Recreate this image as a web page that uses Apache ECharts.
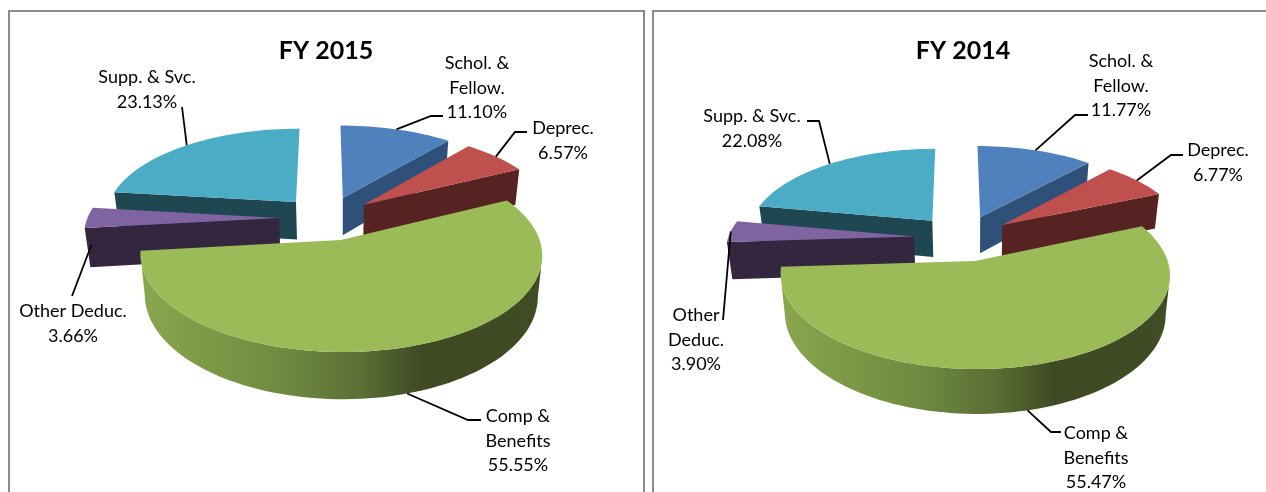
<!DOCTYPE html>
<html>
<head>
<meta charset="utf-8">
<style>
  html, body { margin: 0; padding: 0; background: #fff; }
  #main { width: 1266px; height: 492px; }
</style>
<script src="https://cdn.jsdelivr.net/npm/echarts@6/dist/echarts.min.js"></script>
</head>
<body>
<div id="main"></div>
<script>
// slice order runs clockwise from 12 o'clock
const categories = ['Schol. & Fellow.', 'Deprec.', 'Comp & Benefits', 'Other Deduc.', 'Supp. & Svc.'];
const values2015 = [11.10, 6.57, 55.55, 3.66, 23.13];
const values2014 = [11.77, 6.77, 55.47, 3.90, 22.08];
const labels2015 = ['Schol. &\nFellow.', 'Deprec.', 'Comp &\nBenefits', 'Other Deduc.', 'Supp. & Svc.'];
const labels2014 = ['Schol. &\nFellow.', 'Deprec.', 'Comp &\nBenefits', 'Other\nDeduc.', 'Supp. & Svc.'];

const topColors = ['#4f81bd', '#c0504d', '#9bbb59', '#8064a2', '#4bacc6'];
const wallColors = ['#2f5078', '#562322', '#404c24', '#35263f', '#1f4752'];
// shading along the front of the big slice
const rimStops = [
  { offset: 0, color: '#8aa64e' },
  { offset: 0.35, color: '#708b41' },
  { offset: 0.55, color: '#5a6e35' },
  { offset: 0.7, color: '#3f4a23' },
  { offset: 1, color: '#404c24' }
];

const FONT = 'Lato';

// pie camera and label layout, one per chart
const layout2015 = {
  cx: 341, cy: 240, rx: 198.6, ry: 95, k: 0.152, depth: 40, explode: 0.25, shear: 2, shrink: 0.022,
  // label centre, then the leader's elbow points; anchor is how far down the wall the leader starts
  notes: [
    { x: 477, y: 63, path: [[431, 116], [443, 116]], anchor: 0 },
    { x: 563, y: 128, path: [[515, 132], [527, 132]], anchor: 0 },
    { x: 518, y: 416, path: [[468, 420], [481, 420]], anchor: 1 },
    { x: 73, y: 311, path: [[72, 296]], anchor: 0.7 },
    { x: 147, y: 77, path: [[182, 107]], anchor: 0 }
  ]
};
const layout2014 = {
  cx: 975, cy: 261, rx: 192.7, ry: 92.7, k: 0.142, depth: 38.5, explode: 0.265, shear: 2, shrink: 0.022,
  notes: [
    { x: 1121, y: 61, path: [[1075, 115], [1088, 115]], anchor: 0 },
    { x: 1218, y: 150, path: [[1171, 155], [1183, 155]], anchor: 0 },
    { x: 1096, y: 433, path: [[1051, 432], [1061, 432]], anchor: 1 },
    { x: 696, y: 315, path: [[723, 320]], anchor: 0 },
    { x: 752, y: 116, path: [[819, 121], [807, 121]], anchor: 0 }
  ]
};

const RAD = Math.PI / 180;

// works out every slice's angles and exploded apex from the values
function buildSlices(values, cam) {
  const total = values.reduce((a, b) => a + b, 0);
  let sum = 0;
  const slices = values.map((v, i) => {
    const start = sum / total * 360;
    sum += v;
    const end = sum / total * 360;
    return { index: i, value: v, start: start, end: end, mid: (start + end) / 2 };
  });
  // the camera origin sits on the apex of the biggest slice
  const big = slices.reduce((a, b) => (b.value > a.value ? b : a));
  const ox = -cam.explode * Math.sin(big.mid * RAD);
  const oy = -cam.explode * Math.cos(big.mid * RAD);
  slices.forEach(s => {
    s.ax = ox + cam.explode * Math.sin(s.mid * RAD);
    s.ay = oy + cam.explode * Math.cos(s.mid * RAD);
    s.big = s === big;
  });
  return slices;
}

function project(cam, X, Y, drop) {
  const d = 1 + cam.k * Y;
  const x = cam.rx * X / d - cam.shear * Y;
  return [cam.cx + x * (1 - cam.shrink * drop), cam.cy - cam.ry * Y / d + cam.depth * drop / d];
}

function rimPoint(cam, s, deg, drop) {
  return project(cam, s.ax + Math.sin(deg * RAD), s.ay + Math.cos(deg * RAD), drop);
}

function arcDegrees(s) {
  const list = [];
  for (let a = s.start; a < s.end; a += 2) list.push(a);
  list.push(s.end);
  return list;
}

function sliceElements(cam, s) {
  const children = [];
  const degs = arcDegrees(s);
  const wall = wallColors[s.index];
  const apexTop = project(cam, s.ax, s.ay, 0);
  const apexBot = project(cam, s.ax, s.ay, 1);

  // straight cut faces, only where they turn towards the viewer
  const startDx = rimPoint(cam, s, s.start, 0)[0] - apexTop[0];
  const endDx = rimPoint(cam, s, s.end, 0)[0] - apexTop[0];
  if (startDx < -10) {
    children.push({
      type: 'polygon',
      shape: { points: [apexTop, rimPoint(cam, s, s.start, 0), rimPoint(cam, s, s.start, 1), apexBot] },
      style: { fill: wall }
    });
  }
  if (endDx > 10) {
    children.push({
      type: 'polygon',
      shape: { points: [apexTop, rimPoint(cam, s, s.end, 0), rimPoint(cam, s, s.end, 1), apexBot] },
      style: { fill: wall }
    });
  }

  // only the stretch of rim that runs right to left faces the viewer
  const front = degs.filter((a, i) => {
    const b = i < degs.length - 1 ? degs[i + 1] : a;
    const c = i > 0 ? degs[i - 1] : a;
    return rimPoint(cam, s, b, 0)[0] < rimPoint(cam, s, c, 0)[0];
  });
  if (front.length > 1) {
    const upper = front.map(a => rimPoint(cam, s, a, 0));
    const lower = front.map(a => rimPoint(cam, s, a, 1)).reverse();
    const xs = upper.map(p => p[0]);
    children.push({
      type: 'polygon',
      shape: { points: upper.concat(lower) },
      style: {
        fill: s.big
          ? new echarts.graphic.LinearGradient(Math.min(...xs), 0, Math.max(...xs), 0, rimStops, true)
          : wall
      }
    });
  }

  // top face
  children.push({
    type: 'polygon',
    shape: { points: [apexTop].concat(degs.map(a => rimPoint(cam, s, a, 0))) },
    style: { fill: topColors[s.index] }
  });
  return children;
}

function noteElements(cam, s, note, name) {
  const children = [];
  const start = rimPoint(cam, s, s.mid, note.anchor);
  children.push({
    type: 'polyline',
    shape: { points: [start].concat(note.path) },
    style: { stroke: '#000', lineWidth: 1.8, fill: null }
  });
  children.push({
    type: 'text',
    x: note.x,
    y: note.y - 12,
    style: {
      text: name + '\n' + s.value.toFixed(2) + '%',
      fill: '#000',
      font: '18px ' + FONT,
      lineHeight: 24.5,
      align: 'center',
      verticalAlign: 'top'
    }
  });
  return children;
}

function pieSeries(values, names, cam) {
  const slices = buildSlices(values, cam);
  // far slices are painted first
  const painted = slices.slice().sort((a, b) => b.ay - a.ay);
  return [
    {
      type: 'custom',
      coordinateSystem: 'none',
      silent: true,
      z: 2,
      data: painted.map(s => [s.index, s.value]),
      renderItem: (params, api) => ({
        type: 'group',
        children: sliceElements(cam, slices[api.value(0)])
      })
    },
    {
      type: 'custom',
      coordinateSystem: 'none',
      silent: true,
      z: 3,
      data: slices.map(s => [s.index, s.value]),
      renderItem: (params, api) => {
        const i = api.value(0);
        return { type: 'group', children: noteElements(cam, slices[i], cam.notes[i], names[i]) };
      }
    }
  ];
}

const chart = echarts.init(document.getElementById('main'), null, { renderer: 'canvas' });
chart.setOption({
  animation: false,
  backgroundColor: '#fff',
  textStyle: { fontFamily: FONT },
  title: [
    {
      text: 'FY 2015', left: 321, top: 46, textAlign: 'center', textVerticalAlign: 'middle',
      textStyle: { fontFamily: FONT, fontSize: 25, fontWeight: 'bold', color: '#000' }
    },
    {
      text: 'FY 2014', left: 958, top: 46, textAlign: 'center', textVerticalAlign: 'middle',
      textStyle: { fontFamily: FONT, fontSize: 25, fontWeight: 'bold', color: '#000' }
    }
  ],
  graphic: [
    { type: 'rect', shape: { x: 9, y: 11, width: 635, height: 500 }, style: { fill: null, stroke: '#8c8c8c', lineWidth: 2 }, silent: true },
    { type: 'rect', shape: { x: 653, y: 11, width: 640, height: 500 }, style: { fill: null, stroke: '#8c8c8c', lineWidth: 2 }, silent: true }
  ],
  series: pieSeries(values2015, labels2015, layout2015).concat(pieSeries(values2014, labels2014, layout2014))
});
</script>
</body>
</html>
